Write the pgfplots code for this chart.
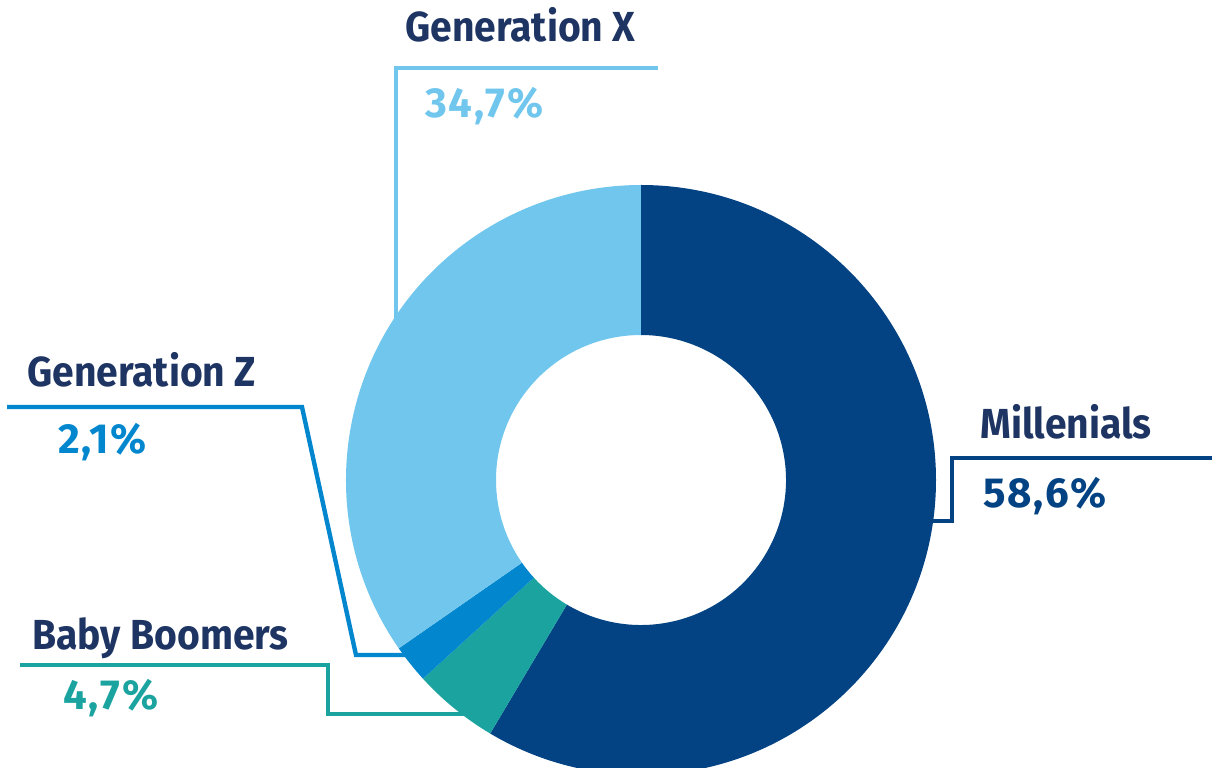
\documentclass[border=0pt]{standalone}
\usepackage{pgfplots}
\pgfplotsset{compat=1.18}
\usepackage{fontspec}
\setmainfont{Fira Sans}[FakeStretch=0.93]
\newfontfamily\numfont{Fira Sans}[LetterSpace=4]

\definecolor{labelnavy}{HTML}{1E3563}
\definecolor{millenials}{HTML}{034383}
\definecolor{genx}{HTML}{70C6EC}
\definecolor{genz}{HTML}{0286CE}
\definecolor{boomers}{HTML}{1BA3A0}

\begin{document}
\begin{tikzpicture}
\begin{axis}[
    scale only axis,
    width=606pt, height=383.5pt,
    xmin=0, xmax=1212,
    ymin=0, ymax=767,
    hide axis,
]
% leader lines (drawn first, the ring covers their ends)
\addplot[genx, line width=2.2pt, line join=miter] coordinates {(396,440) (396,699) (658,699)};
\addplot[genz, line width=2.2pt, line join=miter] coordinates {(7,360) (302,360) (356,112) (430,112)};
\addplot[boomers, line width=2.2pt, line join=miter] coordinates {(20,102) (328,102) (328,53) (480,53)};
\addplot[millenials, line width=2.2pt, line join=miter] coordinates {(1212,309) (952,309) (952,246) (900,246)};

% donut: share in %, clockwise from the top (sum 100.1)
\gdef\s{90}
\foreach \v/\c in {58.6/millenials, 4.7/boomers, 2.1/genz, 34.7/genx}{
    \pgfmathsetmacro{\e}{\s-\v*3.6/1.001}
    \edef\slice{\noexpand\fill[\c]
        (axis cs:641,287) ++(\s:147.5pt)
        arc[start angle=\s, end angle=\e, radius=147.5pt]
        -- ++(\e:-75pt)
        arc[start angle=\e, end angle=\s, radius=72.5pt] -- cycle;}
    \slice
    \xdef\s{\e}
}

\begin{scope}[every node/.style={anchor=base west, inner sep=0pt,
        font=\fontsize{21}{25}\selectfont\bfseries}]
\node[labelnavy] at (axis cs:405,725) {Generation X};
\node[genx, font=\fontsize{21}{25}\numfont\bfseries] at (axis cs:425,649) {34,7\%};
\node[labelnavy] at (axis cs:27,380) {Generation Z};
\node[genz, font=\fontsize{21}{25}\numfont\bfseries] at (axis cs:58,313) {2,1\%};
\node[labelnavy] at (axis cs:32,118) {Baby Boomers};
\node[boomers, font=\fontsize{21}{25}\numfont\bfseries] at (axis cs:63,58) {4,7\%};
\node[labelnavy] at (axis cs:980,328) {Millenials};
\node[millenials, font=\fontsize{21}{25}\numfont\bfseries] at (axis cs:983,259) {58,6\%};
\end{scope}
\end{axis}
\pgfresetboundingbox
\path[use as bounding box] (current axis.south west) rectangle (current axis.north east);
\end{tikzpicture}
\end{document}
